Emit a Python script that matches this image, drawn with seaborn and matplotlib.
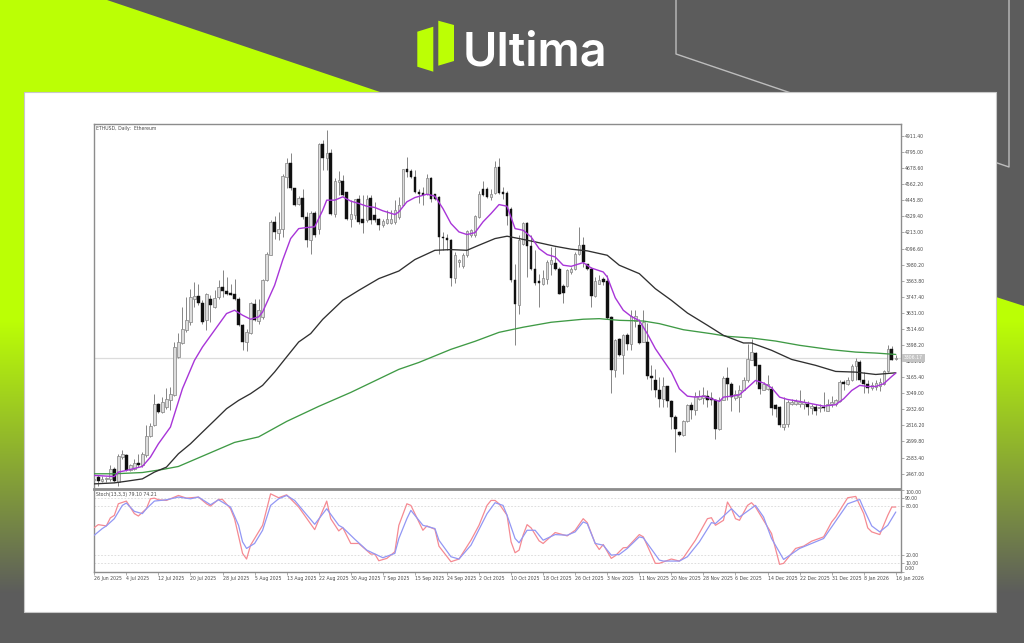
import matplotlib
matplotlib.use("Agg")
import matplotlib.pyplot as plt
from matplotlib.patches import Polygon
import numpy as np
import pandas as pd
import seaborn as sns

W, H = 1024, 643

open_ = [2420,2440,2417,2425,2430,2502,2405,2586,2599,2490,
         2502,2543,2526,2599,2736,2816,2973,2913,2949,2997,
         3034,3312,3416,3505,3565,3734,3753,3702,3577,3734,
         3673,3746,3818,3787,3775,3770,3734,3541,3420,3486,
         3698,3570,3601,3867,4053,4290,4210,4241,4616,4713,
         4532,4418,4466,4326,4157,4355,4241,4853,4749,4785,
         4350,4577,4587,4507,4314,4338,4452,4314,4302,4466,
         4338,4314,4266,4283,4283,4290,4326,4411,4669,4660,
         4616,4507,4500,4490,4604,4490,4471,4181,4174,4162,
         3886,4000,3968,4048,4193,4193,4326,4531,4531,4471,
         4500,4684,4507,4500,4386,3867,3690,4133,4282,4113,
         3951,3862,3843,3879,3988,3995,3951,3826,3823,3927,
         3951,4055,4121,3988,3951,3751,3843,3877,3860,3601,
         3215,3444,3323,3468,3408,3572,3541,3420,3420,3176,
         3147,3075,3010,3099,2992,2876,2767,2750,2847,2961,
         2930,3010,3016,3026,3016,2997,2792,3002,3161,3118,
         3016,3021,3074,3142,3292,3340,3251,3074,3082,3082,
         2961,2949,2808,2823,2968,2968,2968,2973,2973,2941,
         2949,2941,2953,2924,2968,2968,2992,3130,3113,3142,
         3246,3275,3147,3113,3089,3094,3098,3118,3208,3372,
         3297]
high = [2450,2455,2449,2440,2526,2514,2606,2635,2606,2538,
        2570,2606,2623,2816,2833,3041,2978,3022,3087,3094,
        3420,3486,3673,3746,3806,3855,3843,3722,3775,3758,
        3794,3867,3939,3891,3843,3879,3746,3553,3517,3710,
        3734,3734,3879,4072,4302,4331,4362,4635,4749,4785,
        4532,4476,4531,4362,4370,4370,4858,4882,4955,4821,
        4604,4660,4628,4507,4447,4459,4483,4483,4483,4483,
        4435,4321,4314,4374,4374,4447,4471,4676,4761,4669,
        4664,4531,4543,4640,4616,4495,4476,4217,4205,4169,
        4072,4024,4065,4234,4241,4343,4515,4585,4543,4531,
        4732,4754,4543,4515,4394,3988,4193,4290,4290,4193,
        4084,3915,3939,4012,4109,4109,3963,3843,3951,3963,
        4072,4253,4181,3988,3963,3891,3903,3891,3903,3606,
        3444,3451,3480,3485,3650,3650,3589,3650,3558,3251,
        3227,3166,3166,3099,2997,2888,2775,2852,2973,2985,
        3057,3069,3094,3069,3057,3009,3021,3171,3239,3130,
        3070,3106,3166,3408,3444,3348,3251,3130,3178,3098,
        2968,2954,3021,2997,3007,3009,3074,3009,2992,2973,
        2973,2973,3057,3009,3026,3009,3147,3142,3166,3263,
        3306,3292,3202,3147,3130,3147,3161,3219,3400,3388,
        3323]
low = [2400,2380,2405,2410,2417,2405,2381,2575,2485,2485,
       2495,2514,2514,2591,2732,2811,2906,2908,2937,2930,
       3026,3307,3408,3493,3541,3673,3690,3553,3505,3565,
       3665,3734,3746,3758,3758,3722,3534,3360,3355,3481,
       3570,3553,3589,3862,4048,4169,4157,4181,4532,4520,
       4403,4411,4314,4109,4060,4181,4205,4664,4664,4338,
       4326,4483,4476,4302,4254,4314,4278,4210,4290,4278,
       4290,4234,4254,4273,4273,4278,4314,4403,4616,4611,
       4500,4423,4411,4483,4435,4447,4060,4084,4084,3823,
       3847,3963,3959,4036,4181,4181,4321,4476,4466,4447,
       4495,4490,4459,4266,3855,3396,3625,4121,3891,3944,
       3831,3674,3831,3843,3903,3944,3765,3702,3819,3915,
       3939,4048,3963,3939,3674,3746,3843,3831,3589,3048,
       3166,3316,3186,3360,3364,3529,3408,3420,3155,3069,
       3021,2949,2949,2949,2792,2622,2743,2743,2840,2864,
       2888,2997,2973,2949,2961,2719,2780,2997,3001,2924,
       2997,2912,3069,3130,3287,3118,3045,3070,3074,2888,
       2876,2804,2780,2808,2961,2961,2949,2936,2888,2900,
       2888,2912,2924,2920,2949,2954,2985,3074,3106,3137,
       3142,3130,3050,3050,3070,3070,3065,3106,3203,3287,
       3292]
close = [2430,2417,2430,2435,2502,2417,2594,2610,2490,2526,
         2545,2526,2606,2739,2809,2973,2913,2985,3005,3046,
         3384,3420,3512,3577,3746,3753,3705,3565,3765,3685,
         3741,3818,3790,3765,3758,3734,3541,3420,3493,3702,
         3577,3650,3872,4060,4290,4217,4241,4623,4713,4532,
         4411,4466,4326,4157,4355,4193,4850,4749,4785,4345,
         4585,4590,4483,4314,4345,4452,4290,4285,4459,4302,
         4302,4266,4295,4314,4314,4374,4411,4669,4652,4616,
         4507,4495,4483,4604,4452,4459,4181,4170,4157,3886,
         4048,4012,4053,4225,4229,4331,4490,4483,4471,4495,
         4684,4500,4495,4333,3867,3693,4157,4282,4113,3951,
         3847,3847,3886,4000,4012,3951,3770,3775,3939,3951,
         4055,4121,4000,3951,3751,3862,3872,3855,3596,3215,
         3437,3323,3468,3408,3606,3606,3413,3565,3171,3162,
         3075,3010,3099,2992,2876,2792,2750,2847,2961,2930,
         3026,3026,3033,3002,2997,2792,3002,3161,3118,3021,
         3045,3070,3142,3299,3348,3246,3082,3118,3118,2944,
         2937,2821,2828,2985,2985,2990,2985,2985,2949,2956,
         2924,2953,2941,2968,2985,2997,3134,3118,3147,3246,
         3280,3142,3113,3086,3106,3123,3130,3210,3372,3292,
         3306]

# moving averages, read at a handful of bars
ma_fast_bar = [0,5,6,8,12,14,16,19,22,25,27,30,33,35,37,39,41,42,45,47,49,51,53,55,57,58,60,62,64,66,68,70,
               72,75,76,78,80,83,85,87,89,91,93,95,97,99,101,103,105,107,109,111,113,115,117,119,122,124,127,128,
               130,132,134,136,138,140,142,144,146,148,150,152,154,156,157,159,161,163,165,167,169,171,173,176,
               179,182,185,187,189,191,193,195,197,199,200]
ma_fast = [2454,2446,2478,2490,2519,2586,2683,2804,3082,3287,3384,3505,3626,3650,3614,3585,3602,3637,3831,4012,
           4169,4241,4249,4254,4374,4447,4447,4471,4440,4423,4403,4394,
           4370,4343,4362,4435,4466,4490,4476,4386,4278,4217,4198,4212,4290,4350,4415,4403,4241,4229,4181,4096,
           4053,4036,3976,3968,3995,3956,3927,3891,
           3740,3650,3605,3575,3480,3372,3287,3202,3081,3028,3021,3028,3009,2990,3021,3028,3038,3089,3142,3123,
           3089,3021,3004,2990,2973,2956,2966,3009,3069,3106,3098,3098,3118,3171,3195]
ma_mid_bar = [0,5,8,12,15,18,21,24,27,30,33,36,39,42,45,48,51,54,57,62,66,71,76,80,85,89,93,96,100,103,106,110,
              115,119,123,128,131,136,140,144,148,153,157,162,164,169,174,180,185,190,195,200]
ma_mid = [2393,2400,2412,2429,2478,2514,2611,2683,2768,2852,2937,2997,3046,3106,3203,3312,3420,3481,3584,3722,
          3794,3879,3934,4017,4084,4089,4084,4121,4169,4186,4169,4145,4113,4092,4080,4048,3976,3915,3806,3722,
          3630,3541,3468,3413,3413,3360,3294,3251,3207,3202,3185,3197]
ma_slow_bar = [0,5,12,17,21,28,35,41,48,56,64,76,81,89,95,101,107,114,122,126,131,137,141,147,154,158,164,
               170,176,184,190,195,200]
ma_slow = [2466,2466,2475,2497,2519,2606,2693,2733,2845,2954,3055,3222,3272,3367,3425,3490,3527,3563,3585,
           3589,3577,3572,3553,3509,3480,3461,3449,3427,3396,3364,3347,3340,3330]

# stochastic, both lines
stoch_k_bar = [0,1,3,4,5,6,8,10,11,13,14,15,16,18,21,23,26,28,29,31,32,34,35,37,38,39,42,44,46,48,51,55,58,59,61,62,
               64,66,69,70,71,73,75,76,78,79,82,83,85,86,89,91,94,96,98,99,100,101,103,104,105,106,107,108,109,111,
               112,115,118,120,122,123,125,126,127,129,130,132,133,136,137,140,141,144,146,147,150,153,154,155,157,
               158,159,160,161,163,164,165,169,171,172,175,177,179,182,184,185,188,190,192,193,194,196,198,199,200]
stoch_k = [53.9,57.5,55.9,65.7,68.9,83.1,86.4,71,68.1,77,89.2,90,88,87.2,93.3,90,91.3,83.1,80.3,88.4,88.4,77,64.8,
           22.2,15.3,32.3,56.7,95.3,90.5,94.1,79.1,51.4,86.4,64.8,49.8,53.9,34.4,34.4,21.4,21.4,13.2,16.1,24.2,56.7,
           83.1,81.1,50.6,55.9,51.8,31.1,12,15.3,38.4,56.7,81.1,87.2,87.2,83.1,69,36.4,23,26.2,44.5,57.5,53.5,37.6,
           34.4,47.8,43.7,50.6,64.8,60,34.4,27,33.1,16.1,19.3,29.1,29.5,45.3,42.5,10,10,15.3,12.8,16.9,38.4,64.8,66,
           56.7,62.8,85.2,77,64.8,62.8,81.1,84.4,79.1,46.6,8.8,10,28.3,31.1,37.2,42.5,60.8,66.9,90.5,92.1,71,53.5,
           48.6,45.3,68.9,79.1,79.1]
stoch_d_bar = [0,2,3,5,7,8,10,12,13,15,18,21,24,26,29,31,34,36,37,38,40,42,44,46,48,50,55,58,61,62,65,68,72,75,76,
               78,79,82,85,86,89,91,94,98,100,102,103,105,106,108,110,112,115,118,120,122,123,125,127,129,131,133,
               136,137,141,142,146,148,151,154,155,159,161,165,167,169,172,173,176,182,188,191,192,194,196,198,200]
stoch_d = [44.5,52.7,55.9,64.8,81.1,84,73.8,71,77,86.4,88,91.3,89.2,91.3,81.9,88,79.1,56.7,36.4,28.3,34.4,50.6,
           81.1,89.2,93.3,87.2,57.9,77,56.7,53.9,39.6,26.2,16.9,22.2,40.5,64.8,75,56.7,52.7,38.4,18.1,15.3,32.3,
           70.9,84.4,81.1,69,40.5,35.2,50.6,50.6,38.4,45.3,44.5,48.6,60.8,58.8,34.4,32.3,20.1,20.9,28.3,42.5,41.3,
           14,12.8,12.8,18.1,36.4,60,58.8,77,66.9,81.1,66.9,40.5,14.8,18.1,28.3,40.5,83.1,88.4,77,55.9,48.6,56.7,73]

date_labels = ["26 Jun 2025","4 Jul 2025","12 Jul 2025","20 Jul 2025","28 Jul 2025","5 Aug 2025","13 Aug 2025",
               "22 Aug 2025","30 Aug 2025","7 Sep 2025","15 Sep 2025","24 Sep 2025","2 Oct 2025","10 Oct 2025",
               "18 Oct 2025","26 Oct 2025","3 Nov 2025","11 Nov 2025","20 Nov 2025","28 Nov 2025","6 Dec 2025",
               "14 Dec 2025","22 Dec 2025","31 Dec 2025","8 Jan 2026","16 Jan 2026"]
price_ticks = [4911.40,4795.00,4678.60,4562.20,4445.80,4329.40,4213.00,4096.60,3980.20,3863.80,3747.40,
               3631.00,3514.60,3398.20,3281.80,3165.40,3049.00,2932.60,2816.20,2699.80,2583.40,2467.00]
stoch_ticks = [100, 90, 80, 20, 10, 0]
last_price = 3306.17

LIME = "#bcff05"
GREY = "#5c5c5c"
FRAME = "#8c8c8c"
TEXT = "#4a4a4a"
SMALL = 3.3


def px_axes(fig, left, top, right, bottom, **kw):
    return fig.add_axes([left / W, 1 - bottom / H, (right - left) / W, (bottom - top) / H], **kw)


sns.set_theme(style="white")
plt.rcParams["font.family"] = ["DejaVu Sans"]

fig = plt.figure(figsize=(W / 100, H / 100), dpi=100, facecolor=GREY)

# banner background, in pixel coordinates
bg = px_axes(fig, 0, 0, W, H)
bg.set_xlim(0, W)
bg.set_ylim(H, 0)
bg.axis("off")

top_lime = np.array([0.737, 1.0, 0.02])
base = np.array([0.361, 0.361, 0.361])
fade = np.clip((np.linspace(0, H, 643) - 320) / (594 - 320), 0, 1)[:, None, None]
gradient = (1 - fade) * top_lime + fade * base
for verts in ([(0, 0), (107, 0), (380, 92), (24, 92), (24, 643), (0, 643)],
              [(996, 297), (1024, 306), (1024, 643), (996, 643)]):
    patch = Polygon(verts, closed=True, transform=bg.transData, facecolor="none", edgecolor="none")
    bg.add_patch(patch)
    im = bg.imshow(gradient, extent=(0, W, H, 0), aspect="auto", zorder=1)
    im.set_clip_path(patch)
bg.set_xlim(0, W)
bg.set_ylim(H, 0)

bg.plot([676, 676, 1009, 1009], [0, 54, 167, 0], color="#bdbdbd", lw=1.0, zorder=2)
bg.add_patch(plt.Rectangle((24, 92), 972, 520, facecolor="white", edgecolor="#c8c8c8", lw=0.8, zorder=3))

# logo
bg.add_patch(Polygon([(417.3, 31.7), (433.3, 26.7), (433.3, 71.7), (417.3, 66.7)],
                     facecolor=LIME, edgecolor="none", zorder=4))
bg.add_patch(Polygon([(438.3, 20.7), (454, 25), (454, 61), (438.3, 65.7)],
                     facecolor=LIME, edgecolor="none", zorder=4))
bg.text(463, 65.5, "Ultima", color="white", fontsize=33.8, fontweight="semibold", family="Inter",
        ha="left", va="baseline", zorder=4)

# price panel
ax = px_axes(fig, 94, 124, 901, 488.5, facecolor="white")
bars = pd.DataFrame({"open": open_, "high": high, "low": low, "close": close})
bars["bar"] = bars.index
up = bars[bars["close"] >= bars["open"]]
down = bars[bars["close"] < bars["open"]]

ax.vlines(bars["bar"], bars["low"], bars["high"], color="#7c7c7c", lw=0.65, zorder=2)
ax.bar(up["bar"], up["close"] - up["open"], bottom=up["open"], width=0.6,
       facecolor="#dcdcdc", edgecolor="#8a8a8a", linewidth=0.55, zorder=3)
ax.bar(down["bar"], down["open"] - down["close"], bottom=down["close"], width=0.68,
       facecolor="#101010", edgecolor="#101010", linewidth=0.3, zorder=3)

ax.axhline(last_price, color="#dcdcdc", lw=0.9, zorder=1)

for xs, ys, color, width in ((ma_slow_bar, ma_slow, "#3f9a45", 0.95),
                             (ma_mid_bar, ma_mid, "#303030", 0.95),
                             (ma_fast_bar, ma_fast, "#a835d8", 1.0)):
    sns.lineplot(x=xs, y=ys, ax=ax, color=color, linewidth=width, errorbar=None, zorder=4)

ax.set_xlim(-0.07, 201.3)
ax.set_ylim(2359.4, 4998.4)
ax.set_xticks([])
ax.set_yticks(price_ticks)
ax.set_yticklabels([f"{p:.2f}" for p in price_ticks])
ax.yaxis.tick_right()
ax.tick_params(axis="y", length=2.2, width=0.5, color=FRAME, pad=0.8, labelsize=SMALL, labelcolor=TEXT)
ax.text(0.002, 0.9935, "ETHUSD, Daily:  Ethereum", transform=ax.transAxes, fontsize=SMALL,
        color=TEXT, ha="left", va="top")
ax.annotate(f"{last_price:.2f}", xy=(1, last_price), xycoords=("axes fraction", "data"), xytext=(2.2, 0),
            textcoords="offset points", fontsize=SMALL, color="white", va="center", ha="left",
            bbox=dict(boxstyle="square,pad=0.35", facecolor="#c4c4c4", edgecolor="none"),
            annotation_clip=False)
for side in ax.spines.values():
    side.set_color(FRAME)
    side.set_linewidth(1.0)
ax.spines["bottom"].set_linewidth(1.3)

# stochastic panel
ax2 = px_axes(fig, 94, 490, 901, 571.5, facecolor="white")
for level in (90, 80, 20, 10):
    ax2.axhline(level, color="#d8d8d8", lw=0.6, ls=(0, (2, 2)), zorder=1)
sns.lineplot(x=stoch_k_bar, y=stoch_k, ax=ax2, color="#f58a92", linewidth=0.9, errorbar=None, zorder=3)
sns.lineplot(x=stoch_d_bar, y=stoch_d, ax=ax2, color="#9297f4", linewidth=0.9, errorbar=None, zorder=3)
ax2.set_xlim(-0.07, 201.3)
ax2.set_ylim(0, 100)
ax2.set_yticks(stoch_ticks)
ax2.set_yticklabels([f"{v:.2f}" for v in stoch_ticks])
ax2.yaxis.tick_right()
ax2.tick_params(axis="y", length=2.2, width=0.5, color=FRAME, pad=0.8, labelsize=SMALL, labelcolor=TEXT)
ytl = ax2.get_yticklabels()
ytl[0].set_va("top")
ytl[-1].set_va("bottom")
ax2.set_xticks(range(0, 8 * len(date_labels), 8))
ax2.set_xticklabels(date_labels, ha="left")
ax2.tick_params(axis="x", bottom=True, length=2.2, width=0.5, color=FRAME, pad=0.8, labelsize=SMALL, labelcolor=TEXT)
ax2.text(0.002, 0.975, "Stoch(13,3,3) 79.10 74.21", transform=ax2.transAxes, fontsize=SMALL,
         color=TEXT, ha="left", va="top")
for side in ax2.spines.values():
    side.set_color(FRAME)
    side.set_linewidth(1.0)
ax2.spines["top"].set_linewidth(1.3)

fig.savefig("out.png", dpi=100)
plt.close(fig)
